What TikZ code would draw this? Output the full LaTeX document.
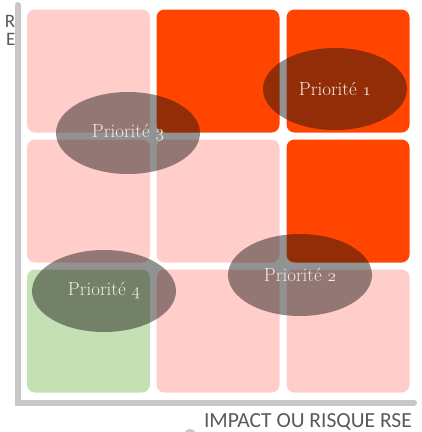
\documentclass[tikz,border=0pt]{standalone}
\usepackage{fontspec}
\newfontfamily\carlito{Carlito}
\definecolor{cpink}{RGB}{255,205,202}
\definecolor{corange}{RGB}{255,69,0}
\definecolor{cgreen}{RGB}{197,224,180}
\definecolor{caxis}{RGB}{200,200,200}
\definecolor{clabel}{RGB}{89,89,89}
\definecolor{cell}{RGB}{20,18,18}
\definecolor{ctext}{RGB}{242,236,230}
\newcommand{\osn}[1]{$\mathnormal{#1}$}
\tikzset{
  cellbox/.style={rounded corners=8pt, inner sep=0pt, minimum width=123pt, minimum height=123pt, draw=none},
  prio/.style={ellipse, fill=cell, fill opacity=0.46, text opacity=1, text=ctext, inner sep=0pt,
     minimum width=144pt, minimum height=82pt, font=\fontsize{19}{22}\selectfont},
  axislbl/.style={text=clabel, font=\carlito\fontsize{21.5}{24}\selectfont, inner sep=0pt}
}
\usetikzlibrary{shapes.geometric}
\begin{document}
\begin{tikzpicture}[x=1pt,y=-1pt]
\useasboundingbox (0,0) rectangle (422,432);
\clip (0,0) rectangle (422,432);
% cells
\node[cellbox, fill=cpink]   (c11) at (88.5,71)  {};
\node[cellbox, fill=corange] (c12) at (218,71)   {};
\node[cellbox, fill=corange] (c13) at (348,71)   {};
\node[cellbox, fill=cpink]   (c21) at (88.5,201) {};
\node[cellbox, fill=cpink]   (c22) at (218,201)  {};
\node[cellbox, fill=corange] (c23) at (348,201)  {};
\node[cellbox, fill=cgreen]  (c31) at (88.5,331) {};
\node[cellbox, fill=cpink]   (c32) at (218,331)  {};
\node[cellbox, fill=cpink]   (c33) at (348,331)  {};
% axes
\coordinate (top) at (17.5,5);
\coordinate (corner) at (17.5,402.5);
\coordinate (right) at (414,402.5);
\draw[caxis, line width=6pt, line cap=round, line join=miter] (top) -- (corner) -- (right);
\node[circle, fill=caxis, minimum size=12pt, inner sep=0pt] (dot) at (190,435) {};
% axis labels
\node[axislbl, anchor=east] (xl) at (412,422) {IMPACT OU RISQUE RSE};
\node[text=clabel, font=\carlito\fontsize{19}{19}\selectfont, inner sep=0pt, anchor=base east] (yl1) at (15.5,27) {R};
\node[text=clabel, font=\carlito\fontsize{19}{19}\selectfont, inner sep=0pt, anchor=base east] (yl2) at (15.5,45.5) {E};
% priorities
\node[prio] (p1) at (335,89)  {Priorité \osn{1}};
\node[prio] (p3) at (128,133) {Priorité \osn{3}};
\node[prio] (p2) at (300,275) {Priorité \osn{2}};
\node[prio] (p4) at (104,291) {Priorité \osn{4}};
\end{tikzpicture}
\end{document}
